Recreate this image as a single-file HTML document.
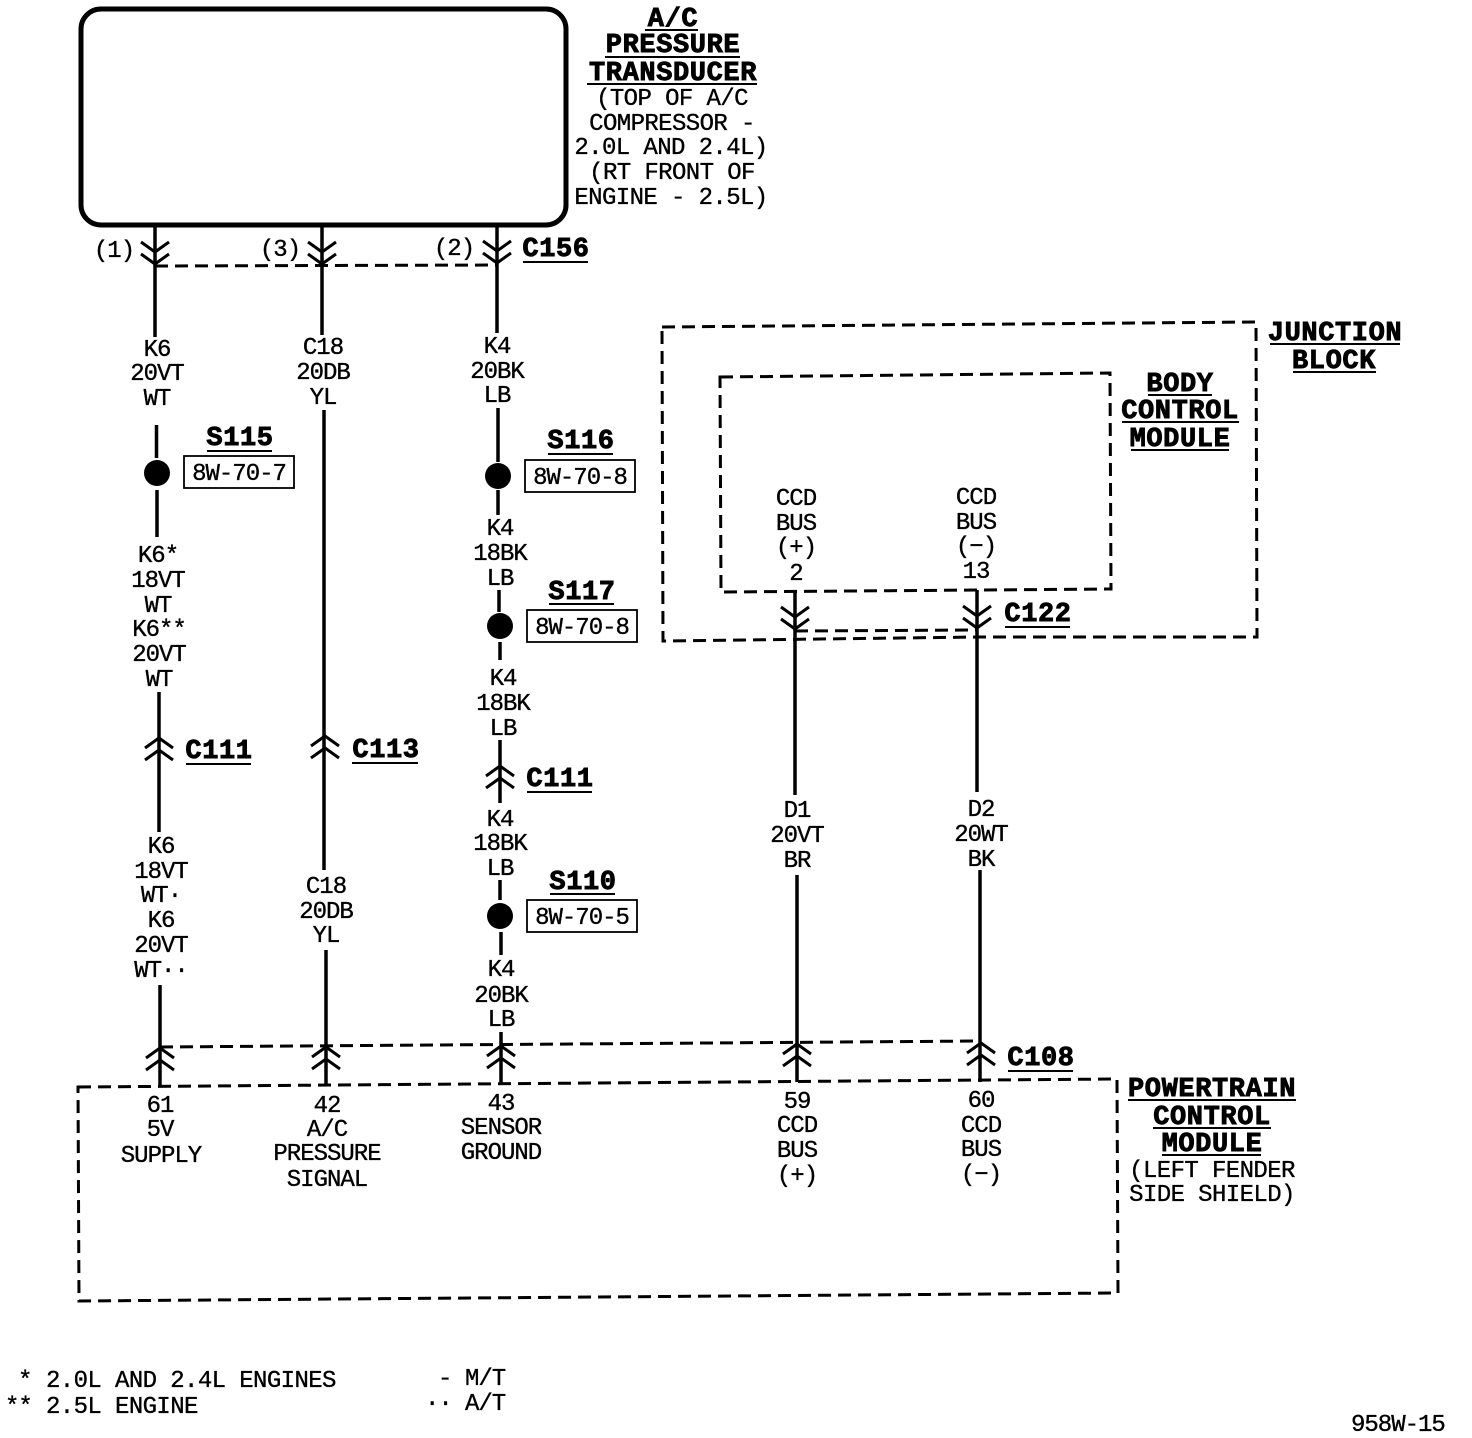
<!DOCTYPE html>
<html><head><meta charset="utf-8"><style>
html,body{margin:0;padding:0;background:#fff}
svg{display:block}
text{font-family:"Liberation Mono",monospace;font-size:24px;letter-spacing:-1px;text-anchor:middle;fill:#000;stroke:#000;stroke-width:.35px;transform:translateY(-1px)}
.b{font-weight:bold;font-size:27px;letter-spacing:.6px;stroke:#000;stroke-width:.9px;transform:translate(1px,-1px)}
.s{text-anchor:start}
.n{letter-spacing:-.6px}
.w{fill:none;stroke:#000;stroke-width:3.5}
.c{fill:none;stroke:#000;stroke-width:3}
.u{fill:none;stroke:#000;stroke-width:2}
.d{fill:none;stroke:#000;stroke-width:3;stroke-dasharray:13 7}
.r{fill:#fff;stroke:#000;stroke-width:1.8}
</style></head><body>
<svg width="1472" height="1438" viewBox="0 0 1472 1438" xmlns="http://www.w3.org/2000/svg">
<rect x="81" y="9" width="485" height="216" rx="20" fill="none" stroke="#000" stroke-width="5"/>

<!-- dashed -->
<path class="d" d="M155 266 L497 265"/>
<path class="d" d="M662 327 L1256 322 L1257 637 L978 637 L663 641 Z"/>
<path class="d" d="M720 377 L1110 373 L1111 589 L721 592 Z"/>
<path class="d" d="M795 631 L978 630"/>
<path class="d" d="M160 1047 L981 1041"/>
<path class="d" d="M78 1087 L1117 1079 L1118 1293 L79 1301 Z"/>

<!-- wires -->
<path class="w" d="M155 225V337M156.500 425V458M157 490V537M159 692V832M160 985V1085"/>
<path class="w" d="M322 225V335M324 410V870M326 950V1085"/>
<path class="w" d="M497 225V333M498 408V462M498 490V515M499 590V612M500 642V660M500 740V803M500 880V900M501 932V955M501 1032V1085"/>
<path class="w" d="M795 592V795M797 875V1082M977 590V792M980 870V1082"/>

<!-- chevrons down -->
<path class="c" d="M141 242L155 252L169 242M141 254L155 264L169 254"/>
<path class="c" d="M308 242L322 252L336 242M308 254L322 264L336 254"/>
<path class="c" d="M483 241L497 251L511 241M483 253L497 263L511 253"/>
<path class="c" d="M781 607L795 617L809 607M781 619L795 629L809 619"/>
<path class="c" d="M963 606L977 616L991 606M963 618L977 628L991 618"/>
<!-- chevrons up -->
<path class="c" d="M145 748L159 738L173 748M145 760L159 750L173 760"/>
<path class="c" d="M311 746L325 736L339 746M311 758L325 748L339 758"/>
<path class="c" d="M486 776L500 766L514 776M486 788L500 778L514 788"/>
<path class="c" d="M146 1058L160 1048L174 1058M146 1070L160 1060L174 1070"/>
<path class="c" d="M312 1057L326 1047L340 1057M312 1069L326 1059L340 1069"/>
<path class="c" d="M487 1056L501 1046L515 1056M487 1068L501 1058L515 1068"/>
<path class="c" d="M783 1054L797 1044L811 1054M783 1066L797 1056L811 1066"/>
<path class="c" d="M967 1053L981 1043L995 1053M967 1065L981 1055L995 1065"/>

<!-- splices -->
<circle cx="157" cy="473" r="13"/>
<circle cx="498" cy="476" r="13"/>
<circle cx="500" cy="626" r="13"/>
<circle cx="500" cy="916" r="13"/>
<rect class="r" x="184" y="456" width="110" height="32"/>
<rect class="r" x="525" y="460" width="110" height="32"/>
<rect class="r" x="527" y="610" width="110" height="32"/>
<rect class="r" x="527" y="900" width="110" height="32"/>

<!-- title -->
<text class="b" x="672" y="27">A/C</text>
<text class="b" x="672" y="53">PRESSURE</text>
<text class="b" x="672" y="81">TRANSDUCER</text>
<path class="u" d="M645 30H698M605 57H740M587 84H757"/>
<text class="n" x="672" y="106">(TOP OF A/C</text>
<text class="n" x="672" y="131">COMPRESSOR -</text>
<text class="n" x="671" y="155">2.0L AND 2.4L)</text>
<text class="n" x="672" y="180">(RT FRONT OF</text>
<text class="n" x="671" y="205">ENGINE - 2.5L)</text>

<text x="114" y="258">(1)</text>
<text x="280" y="257">(3)</text>
<text x="454" y="256">(2)</text>
<text class="b" x="555" y="257">C156</text>
<path class="u" d="M523 262H588"/>

<!-- column 1 -->
<text x="157" y="357">K6</text><text x="157" y="381">20VT</text><text x="157" y="406">WT</text>
<text class="b" x="239" y="446">S115</text><path class="u" d="M207 451H272"/>
<text x="239" y="481">8W-70-7</text>
<text x="158" y="563">K6*</text><text x="158" y="588">18VT</text><text x="158" y="613">WT</text>
<text x="159" y="637">K6**</text><text x="159" y="662">20VT</text><text x="159" y="687">WT</text>
<text class="b" x="218" y="759">C111</text><path class="u" d="M186 764H251"/>
<text x="161" y="854">K6</text><text x="161" y="879">18VT</text><text x="161" y="903">WT·</text>
<text x="161" y="928">K6</text><text x="161" y="953">20VT</text><text x="161" y="978">WT··</text>

<!-- column 2 -->
<text x="323" y="355">C18</text><text x="323" y="380">20DB</text><text x="323" y="405">YL</text>
<text class="b" x="385" y="758">C113</text><path class="u" d="M352 763H418"/>
<text x="326" y="894">C18</text><text x="326" y="919">20DB</text><text x="326" y="943">YL</text>

<!-- column 3 -->
<text x="497" y="354">K4</text><text x="497" y="379">20BK</text><text x="497" y="403">LB</text>
<text class="b" x="580" y="449">S116</text><path class="u" d="M548 454H613"/>
<text x="580" y="485">8W-70-8</text>
<text x="500" y="536">K4</text><text x="500" y="561">18BK</text><text x="500" y="586">LB</text>
<text class="b" x="581" y="600">S117</text><path class="u" d="M549 604H614"/>
<text x="582" y="635">8W-70-8</text>
<text x="503" y="686">K4</text><text x="503" y="711">18BK</text><text x="503" y="736">LB</text>
<text class="b" x="559" y="787">C111</text><path class="u" d="M527 792H592"/>
<text x="500" y="827">K4</text><text x="500" y="851">18BK</text><text x="500" y="876">LB</text>
<text class="b" x="582" y="890">S110</text><path class="u" d="M550 894H615"/>
<text x="582" y="925">8W-70-5</text>
<text x="501" y="977">K4</text><text x="501" y="1003">20BK</text><text x="501" y="1027">LB</text>

<!-- junction -->
<text class="b" x="1334" y="341">JUNCTION</text><path class="u" d="M1270 344H1400"/>
<text class="b" x="1333" y="369">BLOCK</text><path class="u" d="M1293 372H1376"/>
<text class="b" x="1179" y="392">BODY</text><path class="u" d="M1148 395H1212"/>
<text class="b" x="1179" y="419">CONTROL</text><path class="u" d="M1122 422H1239"/>
<text class="b" x="1179" y="447">MODULE</text><path class="u" d="M1131 450H1229"/>
<text x="796" y="506">CCD</text><text x="796" y="531">BUS</text><text x="796" y="555">(+)</text><text x="796" y="581">2</text>
<text x="976" y="505">CCD</text><text x="976" y="530">BUS</text><text x="976" y="554">(−)</text><text x="976" y="579">13</text>
<text class="b" x="1037" y="622">C122</text><path class="u" d="M1005 627H1070"/>

<text x="797" y="818">D1</text><text x="797" y="843">20VT</text><text x="797" y="868">BR</text>
<text x="981" y="817">D2</text><text x="981" y="842">20WT</text><text x="981" y="867">BK</text>
<text class="b" x="1040" y="1066">C108</text><path class="u" d="M1008 1071H1073"/>

<!-- PCM labels -->
<text x="160" y="1113">61</text><text x="160" y="1137">5V</text><text x="161" y="1163">SUPPLY</text>
<text x="327" y="1113">42</text><text x="327" y="1137">A/C</text><text x="327" y="1161">PRESSURE</text><text x="327" y="1187">SIGNAL</text>
<text x="501" y="1111">43</text><text x="501" y="1135">SENSOR</text><text x="501" y="1160">GROUND</text>
<text x="797" y="1109">59</text><text x="797" y="1133">CCD</text><text x="797" y="1158">BUS</text><text x="797" y="1183">(+)</text>
<text x="981" y="1108">60</text><text x="981" y="1133">CCD</text><text x="981" y="1157">BUS</text><text x="981" y="1182">(−)</text>
<text class="b" x="1211" y="1097">POWERTRAIN</text><path class="u" d="M1128 1100H1296"/>
<text class="b" x="1211" y="1125">CONTROL</text><path class="u" d="M1153 1128H1271"/>
<text class="b" x="1211" y="1152">MODULE</text><path class="u" d="M1162 1155H1261"/>
<text class="n" x="1212" y="1178">(LEFT FENDER</text>
<text class="n" x="1212" y="1202">SIDE SHIELD)</text>

<!-- legend -->
<text class="s" x="18" y="1388">*</text><text class="s n" x="46" y="1388">2.0L AND 2.4L ENGINES</text>
<text class="s" x="5" y="1414">**</text><text class="s n" x="46" y="1414">2.5L ENGINE</text>
<text class="s" x="438" y="1386">-</text><text class="s" x="465" y="1386">M/T</text>
<text class="s" x="425" y="1411">··</text><text class="s" x="465" y="1411">A/T</text>
<text class="s" x="1351" y="1432">958W-15</text>
</svg>
</body></html>
